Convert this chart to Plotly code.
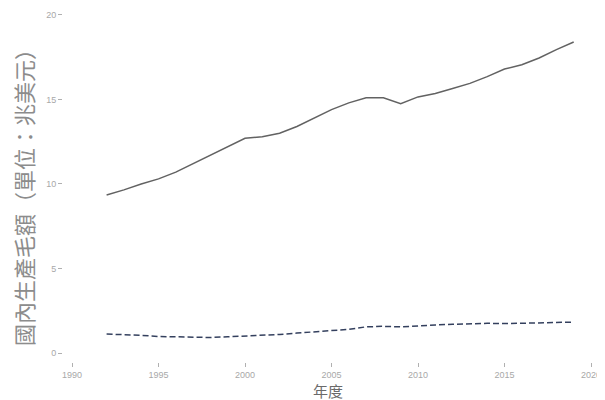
import plotly.graph_objects as go

years = list(range(1992, 2020))
gdp_solid = [9.35, 9.65, 10.0, 10.3, 10.7, 11.2, 11.7, 12.2, 12.7, 12.8,
             13.0, 13.4, 13.9, 14.4, 14.8, 15.1, 15.1, 14.75, 15.15, 15.35,
             15.65, 15.95, 16.35, 16.8, 17.05, 17.45, 17.95, 18.4]
gdp_dashed = [1.12, 1.10, 1.05, 0.98, 0.95, 0.92, 0.92, 0.96, 1.00, 1.05,
              1.10, 1.18, 1.25, 1.30, 1.40, 1.55, 1.58, 1.55, 1.62, 1.66,
              1.70, 1.75, 1.76, 1.74, 1.76, 1.78, 1.82, 1.83]
x_ticks = [1990, 1995, 2000, 2005, 2010, 2015, 2020]
y_ticks = [0, 5, 10, 15, 20]
y_title = "國內生產毛額（單位：兆美元）"
x_title = "年度"

fig = go.Figure()
fig.add_trace(go.Scatter(x=years, y=gdp_solid, mode="lines",
                         line=dict(color="#626262", width=1.5), showlegend=False))
fig.add_trace(go.Scatter(x=years, y=gdp_dashed, mode="lines",
                         line=dict(color="#34405e", width=1.5, dash="6px,3px"), showlegend=False))

W, H = 597, 392
L, R, T, B = 55, 5, 0, 38
pw, ph = W - L - R, H - T - B

tickfont = dict(family="Liberation Sans, Arial, sans-serif", size=9, color="#a8a8a8")
fig.update_layout(
    width=W, height=H,
    margin=dict(l=L, r=R, t=T, b=B),
    paper_bgcolor="white", plot_bgcolor="white",
    xaxis=dict(range=[1989.48, 2020.52], tickvals=x_ticks, ticks="outside",
               ticklen=4, tickcolor="#b0b0b0", tickfont=tickfont,
               showgrid=False, zeroline=False, showline=False),
    yaxis=dict(range=[-0.53, 20.41], tickvals=y_ticks, ticks="outside",
               ticklen=4, tickcolor="#b0b0b0", tickfont=tickfont,
               showgrid=False, zeroline=False, showline=False),
    annotations=[
        dict(text=y_title, xref="paper", yref="paper", x=(15 - L) / pw, y=1 - 184 / ph,
             xanchor="center", yanchor="middle", textangle=-90, showarrow=False,
             font=dict(family="Noto Sans CJK TC", size=22, color="#8c8c8c")),
        dict(text=x_title, xref="paper", yref="paper", x=(320 - L) / pw, y=-(382 - ph) / ph,
             xanchor="center", yanchor="middle", showarrow=False,
             font=dict(family="Noto Sans CJK TC", size=15, color="#6a6a6a")),
    ],
)
fig.write_html("out.html")
